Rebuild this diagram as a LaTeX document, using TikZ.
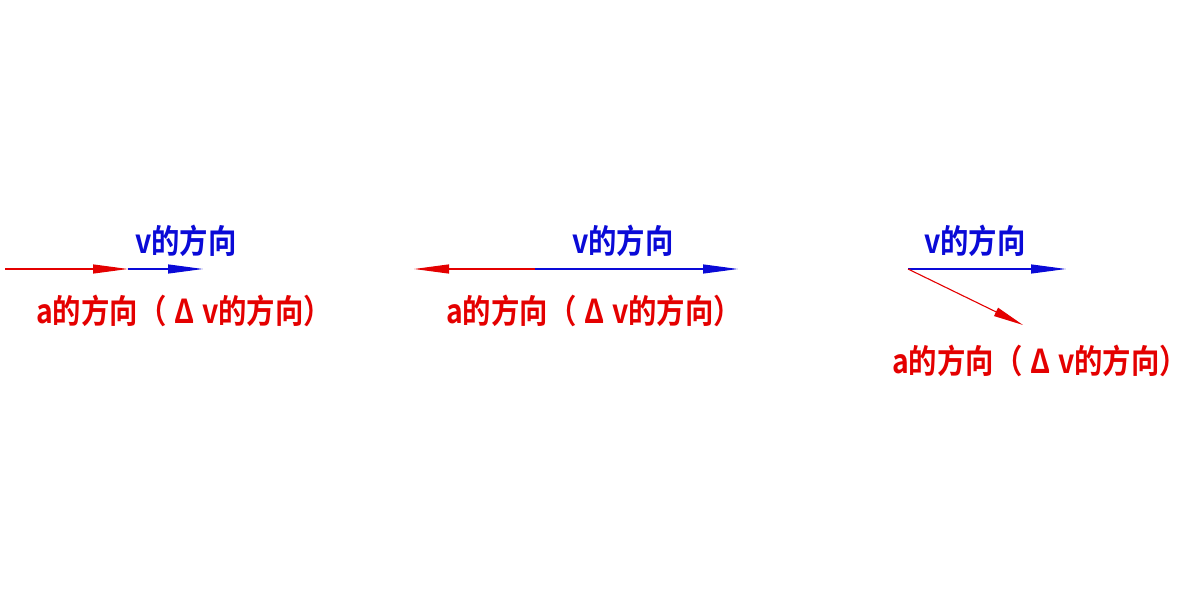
\documentclass[tikz,border=0pt]{standalone}
\usepackage{fontspec}
\newfontfamily\cjk{Noto Sans CJK SC Bold}
\usetikzlibrary{arrows.meta}
\definecolor{vred}{RGB}{228,0,0}
\definecolor{vblue}{RGB}{10,10,215}
\newcommand{\alabel}{a的方向（\hspace{9pt}Δ\hspace{9pt}v的方向）}
\tikzset{
  vec/.style={line width=1.1pt,-{Triangle[length=35pt,width=9pt]}},
  lbl/.style={inner sep=0pt,font=\cjk\fontsize{33}{36}\selectfont,xscale=0.86},
}
\begin{document}
\begin{tikzpicture}[x=1pt,y=-1pt]
\useasboundingbox[fill=white] (0,0) rectangle (1192,596);
% panel 1
\coordinate (a1s) at (5,269);
\coordinate (a1e) at (128,269);
\coordinate (v1e) at (203,269);
\draw[vec,vred] (a1s) -- (a1e);
\draw[vec,vblue] (a1e) -- (v1e);
\node[lbl,text=vblue] (v1) at (186,241) {v的方向};
\node[lbl,text=vred] (l1) at (184,311) {\alabel};
% panel 2
\coordinate (o2) at (535,269);
\coordinate (a2e) at (414,269);
\coordinate (v2e) at (738,269);
\draw[vec,vred] (o2) -- (a2e);
\draw[vec,vblue] (o2) -- (v2e);
\node[lbl,text=vblue] (v2) at (623,241) {v的方向};
\node[lbl,text=vred] (l2) at (594,311) {\alabel};
% panel 3
\coordinate (o3) at (908,269);
\coordinate (v3e) at (1066,269);
\coordinate (a3e) at (1023,325);
\draw[vec,vblue] (o3) -- (v3e);
\draw[vred,line width=1.1pt,-{Triangle[length=30pt,width=9pt]}] (o3) -- (a3e);
\node[lbl,text=vblue] (v3) at (975,241) {v的方向};
\node[lbl,text=vred] (l3) at (1040,361) {\alabel};
\end{tikzpicture}
\end{document}
